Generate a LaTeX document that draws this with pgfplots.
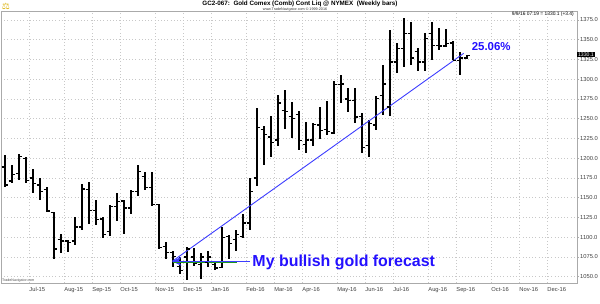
\documentclass[border=0pt]{standalone}
\usepackage{fontspec}
\setmainfont{Liberation Sans}
\newfontfamily\dejavu{DejaVu Sans}
\usepackage{pgfplots}
\pgfplotsset{compat=1.18}
\usepackage{pgfplotstable}
\usetikzlibrary{arrows.meta}
\definecolor{annblue}{RGB}{36,16,255}
\definecolor{lineblue}{RGB}{60,60,255}
\definecolor{greenln}{RGB}{30,150,30}
\definecolor{gridc}{RGB}{200,200,200}
\definecolor{axc}{RGB}{170,170,170}
\definecolor{logo}{RGB}{220,180,20}

\pgfdeclareplotmark{otick}{\pgfpathmoveto{\pgfqpoint{-\pgfplotmarksize}{0pt}}\pgfpathlineto{\pgfqpoint{0pt}{0pt}}\pgfusepathqstroke}
\pgfdeclareplotmark{ctick}{\pgfpathmoveto{\pgfqpoint{0pt}{0pt}}\pgfpathlineto{\pgfqpoint{\pgfplotmarksize}{0pt}}\pgfusepathqstroke}

% weekly OHLC, k = week index (0 = 5 Jun 2015)
\pgfplotstableread{
k O H L C
0 1189 1204 1163 1166
1 1171 1191 1169 1179
2 1181 1205 1172 1202
3 1200 1201 1168 1172
4 1175 1186 1156 1168
5 1166 1175 1147 1158
6 1160 1163 1132 1133
7 1131 1132 1073 1085
8 1097 1104 1080 1095
9 1095 1097 1081 1093
10 1095 1126 1090 1113
11 1113 1167 1109 1161
12 1160 1170 1117 1134
13 1134 1147 1115 1122
14 1123 1126 1099 1103
15 1107 1141 1101 1139
16 1139 1156 1121 1145
17 1146 1147 1104 1137
18 1137 1160 1130 1158
19 1158 1191 1152 1183
20 1177 1182 1160 1163
21 1163 1183 1139 1141
22 1141 1142 1085 1087
23 1088 1094 1073 1081
24 1081 1082 1062 1076
25 1063 1075 1053 1058
26 1075 1088 1046 1085
27 1075 1086 1064 1067
28 1065 1080 1047 1075
29 1068 1082 1062 1075
30 1065 1069 1058 1061
31 1062 1113 1061 1100
32 1101 1103 1073 1092
33 1097 1109 1083 1103
34 1101 1130 1099 1118
35 1118 1175 1109 1158
36 1175 1263 1165 1239
37 1236 1241 1191 1230
38 1227 1254 1202 1220
39 1223 1280 1216 1270
40 1260 1287 1237 1259
41 1253 1271 1225 1250
42 1255 1260 1211 1222
43 1217 1246 1206 1223
44 1223 1244 1215 1243
45 1242 1265 1224 1235
46 1236 1272 1229 1234
47 1232 1298 1231 1293
48 1293 1305 1270 1294
49 1275 1289 1258 1273
50 1273 1289 1244 1252
51 1253 1257 1206 1214
52 1216 1248 1201 1244
53 1242 1279 1236 1276
54 1279 1318 1255 1294
55 1265 1362 1253 1322
56 1322 1346 1308 1339
57 1339 1377 1316 1358
58 1358 1373 1318 1327
59 1335 1339 1310 1322
60 1322 1358 1310 1352
61 1358 1373 1324 1343
62 1343 1365 1337 1342
63 1342 1363 1341 1345
64 1346 1348 1324 1324
65 1324 1335 1305 1327
66 1327 1331 1325 1330.1
}\ohlc

\begin{document}
\begin{tikzpicture}[x=1bp,y=1bp]
\path[use as bounding box] (-1,-20) rectangle (599,283);
\begin{axis}[
  at={(0,0)}, anchor=south west,
  scale only axis, width=576bp, height=272bp,
  xmin=-0.53, xmax=81.76,
  ymin=1042, ymax=1386.4,
  axis line style={axc, line width=0.8bp},
  xtick={3.5,8.5,12.5,16.5,21.5,25.5,29.5,34.5,38.5,42.5,47.5,51.5,55.5,60.5,64.5,69.5,73.5,77.5},
  xticklabels={Jul-15,Aug-15,Sep-15,Oct-15,Nov-15,Dec-15,Jan-16,Feb-16,Mar-16,Apr-16,May-16,Jun-16,Jul-16,Aug-16,Sep-16,Oct-16,Nov-16,Dec-16},
  xtick style={draw=none},
  xticklabel style={anchor=north west, inner sep=0pt, yshift=-2.2bp, font=\fontsize{5.8}{6}\selectfont, text=black!75},
  ytick={1050,1075,...,1375},
  ytick pos=right, yticklabel pos=right,
  ytick style={axc, line width=0.5bp},
  tick align=outside, major tick length=2bp,
  yticklabel style={font=\fontsize{5.8}{6}\selectfont, text=black!75, inner xsep=1bp, inner ysep=0pt},
  /pgf/number format/.cd, fixed, fixed zerofill, precision=1, 1000 sep={}, assume math mode=true,
  /pgfplots/.cd,
  grid=major,
  major grid style={gridc, line width=0.6bp, dash pattern=on 0.8bp off 2.4bp},
  clip=false,
]
% OHLC bars: high-low range via explicit error bars, close tick as mark
\addplot[only marks, mark=ctick, mark size=3bp, mark options={black, line width=1.3bp},
  error bars/.cd, y dir=both, y explicit, error mark=none,
  error bar style={black, line width=1.8bp}]
  table[x=k, y=C, y error plus expr=\thisrow{H}-\thisrow{C}, y error minus expr=\thisrow{C}-\thisrow{L}] {\ohlc};
\addplot[only marks, mark=otick, mark size=3bp, mark options={black, line width=1.3bp}]
  table[x=k, y=O] {\ohlc};

% trend line
\addplot[lineblue, line width=0.9bp] coordinates {(23.94,1069.5) (65.57,1332.8)};
% blue arrow from the note to the low
\draw[lineblue, line width=0.9bp, -{Stealth[length=9bp, width=9bp]}] (axis cs:35.05,1069.5) -- (axis cs:23.94,1069.5);
% green level line
\addplot[greenln, line width=0.9bp] coordinates {(24.05,1068.6) (33.14,1068.6)};

\node[anchor=west, inner sep=0pt, text=annblue, font=\fontsize{16}{16}\selectfont\bfseries] at (axis cs:35.37,1067.7) {My bullish gold forecast};
\node[anchor=west, inner sep=0pt, text=annblue, font=\fontsize{11.5}{12}\selectfont\bfseries] at (axis cs:66.7,1341.2) {25.06\%};

% last price box
\node[anchor=west, fill=black, text=white, inner xsep=0.8bp, inner ysep=0.3bp, font=\fontsize{5.2}{5.5}\selectfont] at (axis cs:81.76,1331.2) {1330.1};
\end{axis}

% header texts
\node[font=\fontsize{6.3}{7}\selectfont\bfseries, inner sep=0pt] at (299,278.7) {GC2-067:\ \ Gold Comex (Comb) Cont Liq @ NYMEX\ \ (Weekly bars)};
\node[font=\fontsize{3.7}{4}\selectfont, inner sep=0pt, text=black!80] at (294,273.3) {www.TradeNavigator.com © 1999-2016};
\node[anchor=east, font=\fontsize{4.9}{5}\selectfont, inner sep=0pt] at (573,268.3) {9/9/16 07:19 = 1330.1 (+3.4)};
\node[anchor=west, font=\fontsize{3.6}{4}\selectfont, inner sep=0pt, text=black!70] at (1,2) {TradeNavigator.com};
\node[font=\dejavu\fontsize{9}{9}\selectfont, text=logo, inner sep=0pt] at (5,277) {⚖};
\end{tikzpicture}
\end{document}
